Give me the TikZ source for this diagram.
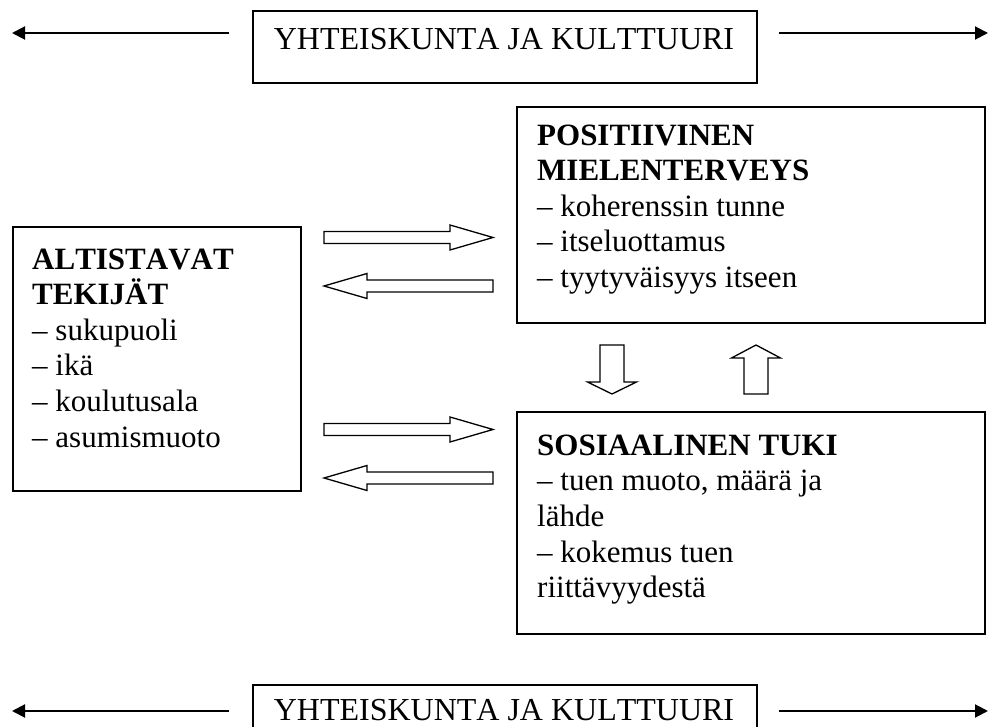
\documentclass[tikz,border=0pt]{standalone}
\usepackage{fontspec}
\setmainfont{Liberation Serif}[Kerning=Off]
\usetikzlibrary{arrows.meta}
\begin{document}
\begin{tikzpicture}[x=1pt,y=-1pt,
  frame/.style={draw=black, line width=1.7pt, inner sep=0pt, anchor=north west},
  body/.style={anchor=north west, inner sep=0pt, align=left, font=\fontsize{31}{35.6}\selectfont},
  biglabel/.style={font=\fontsize{32}{39}\selectfont, inner sep=0pt, anchor=base},
  thinarrow/.style={line width=2pt, -{Triangle[length=13pt,width=13pt]}},
  blockarrow/.style={draw=black, line width=1.3pt, fill=white, line join=miter},
  pics/rblock/.style={code={\draw[blockarrow] (0,-6) -- (126,-6) -- (126,-12.5) -- (169,0) -- (126,12.5) -- (126,6) -- (0,6) -- cycle;}},
  pics/lblock/.style={code={\draw[blockarrow] (0,0) -- (43,-12.5) -- (43,-6) -- (169,-6) -- (169,6) -- (43,6) -- (43,12.5) -- cycle;}},
  pics/dblock/.style={code={\draw[blockarrow] (-12,0) -- (12,0) -- (12,37) -- (24.5,37) -- (0,49) -- (-24.5,37) -- (-12,37) -- cycle;}},
  pics/ublock/.style={code={\draw[blockarrow] (-12,0) -- (12,0) -- (12,-36) -- (24.5,-36) -- (0,-49) -- (-24.5,-36) -- (-12,-36) -- cycle;}}
]
\useasboundingbox (0,0) rectangle (989,727);

% top label box
\node[frame, minimum width=504pt, minimum height=72pt] (topbox) at (252,10) {};
\node[biglabel] (toplabel) at (504,50) {YHTEISKUNTA JA KULTTUURI};
\coordinate (tlA) at (229,33); \coordinate (tlB) at (12,33);
\coordinate (trA) at (779,33); \coordinate (trB) at (988,33);
\draw[thinarrow] (tlA) -- (tlB);
\draw[thinarrow] (trA) -- (trB);

% left box
\node[frame, minimum width=288pt, minimum height=264pt] (altbox) at (12,226) {};
\node[body] (alttext) at (32,239) {\rule{0pt}{30pt}\textbf{ALTISTAVAT}\\\textbf{TEKIJÄT}\\– sukupuoli\\– ikä\\– koulutusala\\– asumismuoto};

% right top box
\node[frame, minimum width=468pt, minimum height=216pt] (posbox) at (516,106) {};
\node[body] (postext) at (537,115) {\rule{0pt}{30pt}\textbf{POSITIIVINEN}\\\textbf{MIELENTERVEYS}\\– koherenssin tunne\\– itseluottamus\\– tyytyväisyys itseen};

% right bottom box
\node[frame, minimum width=468pt, minimum height=222pt] (sosbox) at (516,411) {};
\node[body] (sostext) at (537,425) {\rule{0pt}{30pt}\textbf{SOSIAALINEN TUKI}\\– tuen muoto, määrä ja\\lähde\\– kokemus tuen\\riittävyydestä};

% bottom label box
\node[frame, minimum width=504pt, minimum height=72pt] (botbox) at (252,684) {};
\node[biglabel] (botlabel) at (504,720) {YHTEISKUNTA JA KULTTUURI};
\coordinate (blA) at (229,711); \coordinate (blB) at (12,711);
\coordinate (brA) at (779,711); \coordinate (brB) at (988,711);
\draw[thinarrow] (blA) -- (blB);
\draw[thinarrow] (brA) -- (brB);

% block arrows
\pic at (324,237.5) {rblock};
\pic at (324,286) {lblock};
\pic at (324,429.5) {rblock};
\pic at (324,478) {lblock};
\pic at (612,345) {dblock};
\pic at (756,394) {ublock};
\end{tikzpicture}
\end{document}
